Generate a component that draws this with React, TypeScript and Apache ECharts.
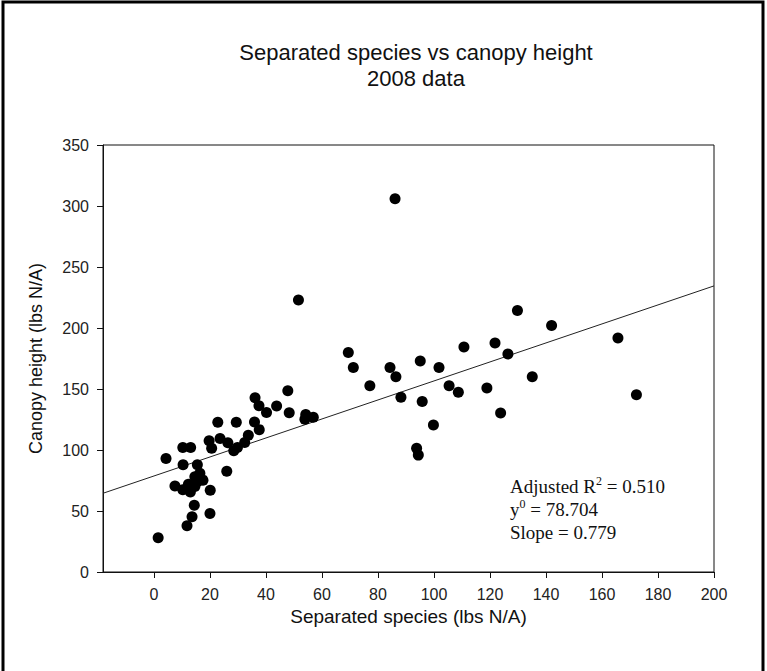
import React, { useEffect, useRef } from "react";
import * as echarts from "echarts";

// Separated species (lbs N/A) per plot
const speciesX: number[] = [
  1.5, 4.3, 7.5, 10.4, 10.3, 13.1, 10.3, 12.3, 13.0, 15.5,
  14.4, 13.6, 11.8, 20.0, 20.1, 14.6, 16.4, 17.5, 15.5, 14.6,
  19.7, 20.6, 22.8, 23.6, 26.4, 26.0, 29.4, 28.5, 29.8, 32.4,
  33.7, 36.1, 37.5, 35.9, 37.6, 40.2, 43.8, 47.8, 48.3, 54.2,
  53.9, 56.9, 51.6, 69.4, 71.2, 77.1, 84.3, 86.4, 88.2, 86.1,
  95.1, 95.8, 101.8, 99.8, 93.8, 94.4, 105.4, 108.7, 110.7, 118.9,
  121.8, 126.4, 123.8, 129.8, 135.1, 142.0, 165.7, 172.3,
];

// Canopy height (lbs N/A) per plot
const canopyY: number[] = [
  28, 93, 70.5, 88, 102, 102, 67.5, 72, 65.5, 88,
  54.7, 45.2, 38, 48, 67, 78, 81, 75.3, 74, 70,
  107.5, 101.5, 122.8, 109.5, 106, 82.5, 122.7, 99.3, 102, 106.2,
  112, 142.8, 136.2, 123, 116.7, 130.8, 136, 148.5, 130.6, 129,
  125.2, 126.8, 223, 180, 167.6, 152.6, 167.6, 160, 143.3, 306,
  173, 139.7, 167.6, 120.5, 101.4, 95.8, 152.7, 147.3, 184.4, 150.8,
  187.7, 178.6, 130.4, 214.3, 160, 202, 191.8, 145.2,
];

// Linear regression fit reported for the data
const fitIntercept = 78.704;
const fitSlope = 0.779;
const fitR2 = "0.510";

// Axis ranges and tick labels
const xMin = -18.2;
const xMax = 200;
const xTicks: number[] = [0, 20, 40, 60, 80, 100, 120, 140, 160, 180, 200];
const yMin = 0;
const yMax = 350;
const yStep = 50;

export default function App() {
  const ref = useRef<HTMLDivElement>(null);

  useEffect(() => {
    if (!ref.current) return;
    const chart = echarts.init(ref.current, null, { renderer: "svg" });

    const points = speciesX.map((x, i) => [x, canopyY[i]]);
    const fitLine = [
      [xMin, fitIntercept + fitSlope * xMin],
      [xMax, fitIntercept + fitSlope * xMax],
    ];

    const sans = "Arial, 'Liberation Sans', sans-serif";
    const serif = "'Times New Roman', 'Liberation Serif', serif";

    chart.setOption({
      animation: false,
      backgroundColor: "#ffffff",
      title: {
        text: "Separated species vs canopy height\n2008 data",
        left: 411,
        top: 34,
        textAlign: "center",
        textStyle: {
          fontFamily: sans,
          fontSize: 22,
          fontWeight: "normal",
          color: "#111111",
          lineHeight: 26,
        },
      },
      grid: {
        left: 103,
        right: 53,
        top: 145,
        bottom: 99,
        show: true,
        borderColor: "#111111",
        borderWidth: 1,
        backgroundColor: "transparent",
      },
      xAxis: {
        type: "value",
        min: xMin,
        max: xMax,
        name: "Separated species (lbs N/A)",
        nameLocation: "middle",
        nameGap: 32,
        nameTextStyle: { fontFamily: sans, fontSize: 19, color: "#111111" },
        splitLine: { show: false },
        axisLine: {
          show: true,
          onZero: false,
          lineStyle: { color: "#111111", width: 1 },
        },
        axisTick: {
          show: true,
          inside: false,
          length: 6,
          customValues: xTicks,
          lineStyle: { color: "#111111" },
        },
        axisLabel: {
          fontFamily: sans,
          fontSize: 16,
          color: "#222222",
          margin: 14,
          customValues: xTicks,
        },
      },
      yAxis: {
        type: "value",
        min: yMin,
        max: yMax,
        interval: yStep,
        name: "Canopy height (lbs N/A)",
        nameLocation: "middle",
        nameGap: 58,
        nameTextStyle: { fontFamily: sans, fontSize: 18, color: "#111111" },
        splitLine: { show: false },
        axisLine: {
          show: true,
          onZero: false,
          lineStyle: { color: "#111111", width: 1 },
        },
        axisTick: {
          show: true,
          inside: false,
          length: 6,
          lineStyle: { color: "#111111" },
        },
        axisLabel: {
          fontFamily: sans,
          fontSize: 16,
          color: "#222222",
          margin: 14,
        },
      },
      series: [
        {
          type: "line",
          data: fitLine,
          showSymbol: false,
          symbol: "none",
          lineStyle: { color: "#222222", width: 1 },
          silent: true,
          z: 1,
        },
        {
          type: "scatter",
          data: points,
          symbol: "circle",
          symbolSize: 11,
          itemStyle: { color: "#000000", opacity: 1 },
          z: 2,
        },
      ],
      graphic: [
        {
          type: "rect",
          silent: true,
          shape: { x: 3, y: 2, width: 760, height: 700 },
          style: { fill: "none", stroke: "#000000", lineWidth: 3 },
        },
        {
          type: "text",
          left: 510,
          top: 475,
          silent: true,
          style: {
            text: `Adjusted R{sup|2} = ${fitR2}\ny{sup|0} = ${fitIntercept.toFixed(3)}\nSlope = ${fitSlope.toFixed(3)}`,
            fontFamily: serif,
            fontSize: 19,
            lineHeight: 23,
            fill: "#111111",
            rich: {
              sup: {
                fontFamily: serif,
                fontSize: 12,
                lineHeight: 23,
                verticalAlign: "top",
                fill: "#111111",
              },
            },
          },
        },
      ],
    });

    return () => chart.dispose();
  }, []);

  return (
    <div
      ref={ref}
      style={{ position: "fixed", left: 0, top: 0, width: 767, height: 671 }}
    />
  );
}
